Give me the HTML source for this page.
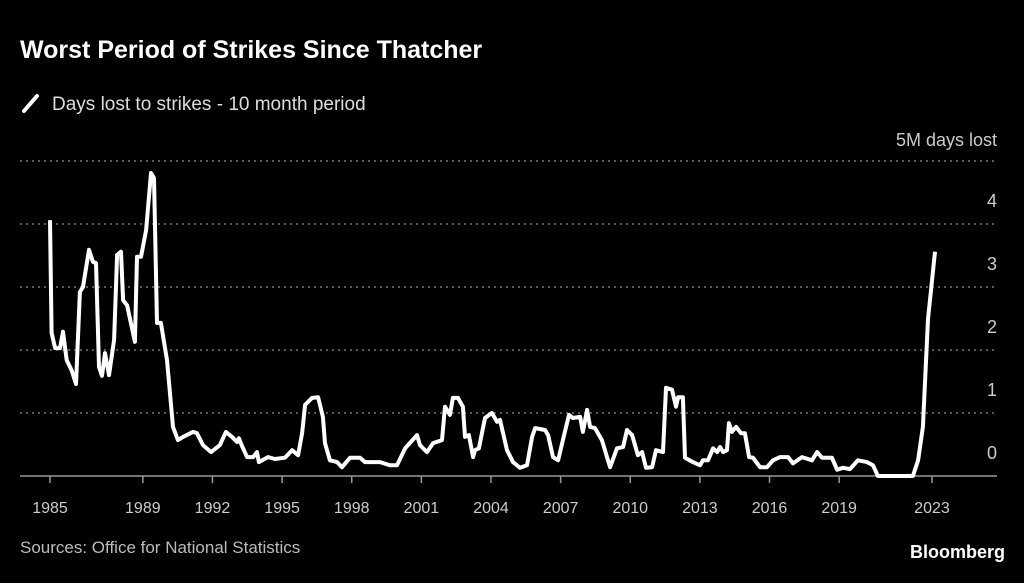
<!DOCTYPE html>
<html><head><meta charset="utf-8"><style>
body{margin:0;background:#000;width:1024px;height:578px;overflow:hidden;font-family:"Liberation Sans",sans-serif;color:#fff}
</style></head><body>
<svg width="1024" height="578">
<text x="20" y="58" font-size="25" font-weight="bold" fill="#fff">Worst Period of Strikes Since Thatcher</text>
<g>
<line x1="24" y1="111" x2="37" y2="96" stroke="#fff" stroke-width="4" stroke-linecap="round"/>
<text x="52" y="110" font-size="19" fill="#ddd">Days lost to strikes - 10 month period</text>
</g>
<text x="997" y="146" font-size="18" fill="#ccc" text-anchor="end">5M days lost</text>
<g id="grid"></g><g id="axes"></g>
<path id="line" fill="none" stroke="#fff" stroke-width="4" stroke-linejoin="round"/>
<text x="20" y="553" font-size="17" fill="#bbb">Sources: Office for National Statistics</text>
<text x="1005" y="558" font-size="18" font-weight="bold" fill="#fff" text-anchor="end">Bloomberg</text>
</svg>
<script>
const years=[1985.00,1985.07,1985.22,1985.43,1985.56,1985.72,1985.93,1986.12,1986.29,1986.42,1986.68,1986.85,1986.98,1987.11,1987.24,1987.37,1987.54,1987.76,1987.89,1988.06,1988.15,1988.32,1988.66,1988.75,1988.92,1989.14,1989.35,1989.48,1989.61,1989.78,1990.04,1990.30,1990.51,1990.73,1991.16,1991.33,1991.59,1991.94,1992.32,1992.58,1992.84,1993.06,1993.14,1993.27,1993.49,1993.75,1993.92,1994.00,1994.39,1994.69,1995.12,1995.43,1995.69,1995.86,1995.99,1996.29,1996.55,1996.76,1996.85,1997.06,1997.37,1997.58,1997.93,1998.36,1998.57,1999.22,1999.65,1999.95,2000.30,2000.81,2000.94,2001.24,2001.50,2001.89,2002.02,2002.23,2002.36,2002.58,2002.79,2002.88,2003.05,2003.23,2003.31,2003.48,2003.74,2004.04,2004.26,2004.39,2004.69,2004.95,2005.25,2005.55,2005.77,2005.90,2006.33,2006.46,2006.67,2006.89,2007.10,2007.36,2007.53,2007.84,2007.96,2008.14,2008.27,2008.48,2008.78,2009.00,2009.13,2009.43,2009.69,2009.86,2010.08,2010.33,2010.51,2010.68,2010.94,2011.11,2011.41,2011.54,2011.80,2011.97,2012.06,2012.27,2012.36,2012.70,2013.01,2013.13,2013.35,2013.57,2013.74,2013.87,2014.00,2014.17,2014.25,2014.38,2014.56,2014.77,2014.94,2015.12,2015.29,2015.59,2015.89,2016.15,2016.45,2016.80,2017.01,2017.40,2017.83,2018.05,2018.26,2018.69,2018.91,2019.17,2019.47,2019.81,2020.20,2020.46,2020.67,2022.18,2022.40,2022.61,2022.83,2023.13];
const values=[4.06,2.27,2.03,2.03,2.29,1.84,1.68,1.46,2.92,3.0,3.59,3.4,3.38,1.73,1.59,1.95,1.6,2.16,3.51,3.56,2.79,2.71,2.13,3.48,3.48,3.9,4.81,4.73,2.43,2.43,1.84,0.78,0.57,0.62,0.7,0.68,0.49,0.38,0.49,0.7,0.62,0.54,0.6,0.48,0.3,0.3,0.38,0.22,0.3,0.27,0.29,0.41,0.33,0.68,1.13,1.24,1.25,0.94,0.52,0.25,0.22,0.14,0.29,0.29,0.22,0.22,0.17,0.17,0.44,0.65,0.49,0.38,0.52,0.57,1.1,0.97,1.24,1.24,1.1,0.62,0.65,0.3,0.41,0.44,0.92,1.0,0.86,0.89,0.41,0.22,0.13,0.17,0.62,0.76,0.73,0.65,0.3,0.25,0.57,0.97,0.92,0.94,0.7,1.05,0.78,0.76,0.57,0.3,0.14,0.44,0.46,0.73,0.65,0.33,0.38,0.13,0.14,0.41,0.38,1.4,1.37,1.1,1.25,1.25,0.29,0.22,0.17,0.25,0.25,0.44,0.38,0.46,0.38,0.41,0.84,0.7,0.78,0.68,0.68,0.3,0.29,0.14,0.14,0.25,0.3,0.3,0.2,0.3,0.25,0.38,0.29,0.29,0.1,0.13,0.11,0.25,0.22,0.17,0,0,0.25,0.78,2.49,3.56];
const yTicks=[0,1,2,3,4,5];
const yLabels=["0","1","2","3","4",""];
const xTicks=[1985,1989,1992,1995,1998,2001,2004,2007,2010,2013,2016,2019,2023];
const NS="http://www.w3.org/2000/svg";
function X(y){return 50+(y-1985)*23.21;}
function Y(v){return 476-v*63;}
const grid=document.getElementById('grid'),axes=document.getElementById('axes');
function mk(tag,attrs,parent){const e=document.createElementNS(NS,tag);for(const k in attrs)e.setAttribute(k,attrs[k]);parent.appendChild(e);return e;}
yTicks.forEach((t,i)=>{
 if(t>0){const g=mk('line',{x1:20,x2:997,y1:Y(t),y2:Y(t),stroke:'#777','stroke-dasharray':'2,4','stroke-width':1.5},grid);
 
 }
 if(yLabels[i]){const tx=mk('text',{x:997,y:Y(t)-17,'font-size':18,fill:'#ccc','text-anchor':'end'},grid);tx.textContent=yLabels[i];
 
 }
});
const base=mk('line',{x1:20,x2:997,y1:476,y2:476,stroke:'#999','stroke-width':1.5},axes);


xTicks.forEach(t=>{
 const l=mk('line',{x1:X(t),x2:X(t),y1:476,y2:483,stroke:'#999','stroke-width':1.5},axes);
 
 
 const tx=mk('text',{x:X(t),y:513,'font-size':16,fill:'#ccc','text-anchor':'middle'},axes);tx.textContent=t;
 
 
});
document.getElementById('line').setAttribute('d',years.map((y,i)=>(i?'L':'M')+X(y).toFixed(1)+','+Y(values[i]).toFixed(1)).join(''));
</script>
</body></html>
